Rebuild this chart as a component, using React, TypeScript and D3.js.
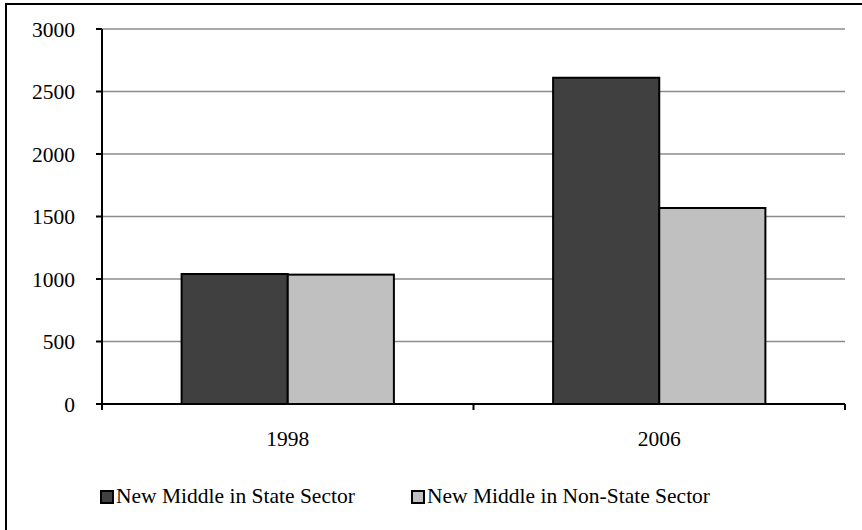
import React from "react";
import * as d3 from "d3";

const categories = ["1998", "2006"];
const seriesNames = ["New Middle in State Sector", "New Middle in Non-State Sector"];
const stateSector = [1040, 2610];
const nonStateSector = [1035, 1568];
const yTicks = [0, 500, 1000, 1500, 2000, 2500, 3000];
const colors = ["#404040", "#c0c0c0"];

const W = 862;
const H = 530;
const FONT = "'Liberation Serif', 'Times New Roman', serif";
const FS = 21.5;

export default function App() {
  const left = 102, right = 845, top = 29, bottom = 404;
  const x = d3.scaleBand<string>().domain(categories).range([left, right]);
  const y = d3.scaleLinear().domain([0, 3000]).range([bottom, top]);
  const barW = x.bandwidth() / 3.5;
  const series = [stateSector, nonStateSector];

  return (
    <svg width={W} height={H} style={{ position: "absolute", left: 0, top: 0 }}>
      <rect x={0} y={0} width={W} height={H} fill="#fff" />
      <rect x={6} y={4} width={W + 10} height={H + 10} fill="none" stroke="#000" strokeWidth={2} />
      {yTicks.slice(1).map((t) => (
        <line key={t} x1={left} x2={right} y1={y(t)} y2={y(t)} stroke="#8c8c8c" strokeWidth={1.5} />
      ))}
      {categories.map((c, i) =>
        series.map((s, j) => {
          const cx = x(c)! + x.bandwidth() / 2;
          const bx = cx - barW + j * barW;
          return (
            <rect
              key={c + j}
              x={bx}
              y={y(s[i])}
              width={barW}
              height={bottom - y(s[i])}
              fill={colors[j]}
              stroke="#000"
              strokeWidth={2}
            />
          );
        })
      )}
      <line x1={left} x2={left} y1={top} y2={bottom} stroke="#000" strokeWidth={2} />
      <line x1={left - 6} x2={right} y1={bottom} y2={bottom} stroke="#000" strokeWidth={2} />
      {yTicks.map((t) => (
        <g key={t}>
          <line x1={left - 6} x2={left} y1={y(t)} y2={y(t)} stroke="#000" strokeWidth={2} />
          <text x={75} y={y(t)} dy="0.35em" textAnchor="end" fontFamily={FONT} fontSize={FS} fill="#000">
            {t}
          </text>
        </g>
      ))}
      {[left, left + x.step(), right].map((tx, i) => (
        <line key={i} x1={tx} x2={tx} y1={bottom} y2={bottom + 6} stroke="#000" strokeWidth={2} />
      ))}
      {categories.map((c) => (
        <text
          key={c}
          x={x(c)! + x.bandwidth() / 2}
          y={446}
          textAnchor="middle"
          fontFamily={FONT}
          fontSize={FS}
          fill="#000"
        >
          {c}
        </text>
      ))}
      {seriesNames.map((n, j) => {
        const lx = [101, 412][j];
        return (
          <g key={n}>
            <rect x={lx} y={491} width={12} height={12} fill={colors[j]} stroke="#000" strokeWidth={2} />
            <text x={lx + 15} y={503} fontFamily={FONT} fontSize={FS} fill="#000">
              {n}
            </text>
          </g>
        );
      })}
    </svg>
  );
}
